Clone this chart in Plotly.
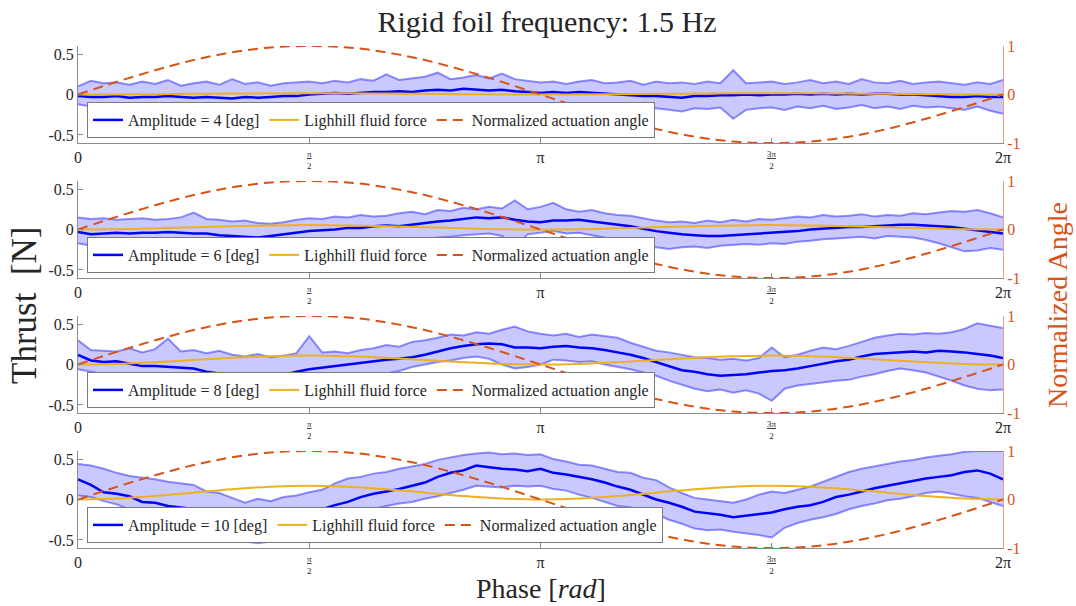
import numpy as np
import plotly.graph_objects as go

# ---------------- data ----------------
amplitudes = [4, 6, 8, 10]
phase = np.linspace(0, 2 * np.pi, 73)          # 5 degree steps
phase_coarse = np.linspace(0, 2 * np.pi, 25)   # 15 degree steps

mean_a4 = [-0.02,-0.03,-0.03,-0.02,-0.04,-0.03,-0.03,-0.02,-0.03,-0.04,-0.03,-0.04,-0.05,-0.03,-0.04,-0.03,-0.02,-0.02,
           0.00,0.01,0.02,0.01,0.02,0.03,0.03,0.04,0.03,0.05,0.06,0.05,0.07,0.06,0.05,0.06,0.04,0.03,
           0.02,0.03,0.02,0.03,0.02,0.01,0.00,-0.01,-0.02,-0.02,-0.03,-0.04,-0.02,-0.02,-0.01,-0.01,0.00,-0.01,
           0.00,0.00,0.01,0.00,0.01,0.00,0.01,0.00,0.01,0.01,0.00,0.00,-0.01,-0.02,-0.03,-0.03,-0.02,-0.03,-0.03]
upper_a4 = [0.10,0.17,0.14,0.15,0.12,0.16,0.13,0.18,0.11,0.14,0.16,0.12,0.19,0.13,0.15,0.11,0.14,0.15,
            0.16,0.14,0.17,0.15,0.19,0.17,0.25,0.18,0.20,0.22,0.27,0.19,0.21,0.24,0.20,0.26,0.19,0.17,
            0.15,0.16,0.13,0.16,0.18,0.14,0.15,0.17,0.12,0.16,0.14,0.15,0.13,0.16,0.14,0.30,0.14,0.15,
            0.16,0.13,0.15,0.18,0.14,0.16,0.13,0.19,0.15,0.14,0.17,0.13,0.15,0.16,0.14,0.12,0.15,0.13,0.18]
lower_a4 = [-0.12,-0.15,-0.20,-0.17,-0.22,-0.18,-0.25,-0.19,-0.21,-0.17,-0.23,-0.31,-0.18,-0.22,-0.26,-0.20,-0.24,-0.19,
            -0.17,-0.20,-0.16,-0.18,-0.14,-0.17,-0.15,-0.13,-0.16,-0.15,-0.18,-0.13,-0.15,-0.17,-0.14,-0.19,-0.16,-0.17,
            -0.15,-0.14,-0.18,-0.15,-0.19,-0.16,-0.17,-0.20,-0.18,-0.17,-0.19,-0.21,-0.17,-0.18,-0.16,-0.30,-0.19,-0.17,
            -0.16,-0.19,-0.15,-0.17,-0.14,-0.18,-0.16,-0.13,-0.17,-0.15,-0.18,-0.14,-0.16,-0.15,-0.17,-0.19,-0.15,-0.20,-0.24]

mean_a6 = [-0.03,-0.06,-0.05,-0.04,-0.05,-0.04,-0.04,-0.03,-0.04,-0.05,-0.05,-0.07,-0.08,-0.09,-0.10,-0.08,-0.06,-0.04,
           -0.02,-0.01,0.00,0.02,0.02,0.04,0.05,0.04,0.06,0.08,0.10,0.11,0.13,0.15,0.14,0.15,0.12,0.10,
           0.09,0.11,0.11,0.12,0.10,0.08,0.06,0.04,0.01,-0.02,-0.04,-0.06,-0.07,-0.08,-0.08,-0.07,-0.06,-0.05,
           -0.04,-0.03,-0.02,0.00,0.01,0.02,0.03,0.03,0.04,0.05,0.06,0.06,0.05,0.04,0.03,0.01,-0.01,-0.03,-0.05]
upper_a6 = [0.15,0.13,0.14,0.12,0.13,0.14,0.12,0.13,0.15,0.21,0.13,0.12,0.10,0.11,0.08,0.07,0.09,0.12,
            0.14,0.13,0.16,0.15,0.18,0.16,0.17,0.20,0.22,0.19,0.24,0.23,0.27,0.25,0.28,0.26,0.36,0.25,
            0.28,0.33,0.25,0.22,0.24,0.20,0.18,0.17,0.14,0.11,0.09,0.10,0.08,0.11,0.09,0.12,0.10,0.13,
            0.12,0.14,0.16,0.15,0.18,0.16,0.17,0.19,0.16,0.18,0.17,0.20,0.19,0.21,0.23,0.22,0.24,0.20,0.15]
lower_a6 = [-0.17,-0.20,-0.22,-0.23,-0.21,-0.24,-0.22,-0.25,-0.23,-0.22,-0.26,-0.24,-0.25,-0.29,-0.27,-0.30,-0.26,-0.24,
            -0.23,-0.21,-0.20,-0.17,-0.19,-0.16,-0.15,-0.14,-0.13,-0.11,-0.10,-0.09,-0.07,-0.06,-0.05,-0.08,-0.21,-0.06,
            -0.04,-0.02,-0.05,-0.04,-0.07,-0.10,-0.13,-0.16,-0.19,-0.22,-0.24,-0.22,-0.21,-0.23,-0.20,-0.19,-0.18,-0.19,
            -0.17,-0.18,-0.15,-0.14,-0.12,-0.11,-0.10,-0.09,-0.11,-0.08,-0.09,-0.10,-0.13,-0.17,-0.22,-0.27,-0.26,-0.23,-0.25]

mean_a8 = [0.12,0.05,0.03,0.04,0.01,-0.02,-0.02,-0.03,-0.04,-0.05,-0.09,-0.11,-0.14,-0.17,-0.16,-0.14,-0.13,-0.09,
           -0.06,-0.04,-0.02,0.00,0.02,0.04,0.06,0.07,0.09,0.12,0.16,0.20,0.23,0.25,0.26,0.25,0.21,0.21,
           0.20,0.22,0.23,0.21,0.20,0.18,0.15,0.12,0.08,0.03,-0.02,-0.07,-0.09,-0.12,-0.14,-0.13,-0.12,-0.10,
           -0.08,-0.07,-0.05,-0.02,0.01,0.04,0.06,0.10,0.13,0.14,0.15,0.16,0.15,0.17,0.16,0.15,0.13,0.11,0.08]
upper_a8 = [0.30,0.18,0.17,0.16,0.20,0.15,0.19,0.32,0.16,0.18,0.14,0.17,0.12,0.10,0.13,0.09,0.11,0.14,
            0.35,0.15,0.16,0.14,0.18,0.20,0.24,0.22,0.28,0.30,0.33,0.37,0.36,0.40,0.38,0.43,0.47,0.41,
            0.38,0.36,0.38,0.34,0.37,0.35,0.33,0.27,0.22,0.17,0.15,0.12,0.09,0.08,0.06,0.07,0.05,0.08,
            0.21,0.09,0.12,0.17,0.21,0.19,0.23,0.28,0.33,0.36,0.38,0.37,0.39,0.38,0.40,0.44,0.51,0.48,0.45]
lower_a8 = [-0.06,-0.09,-0.12,-0.15,-0.19,-0.17,-0.22,-0.20,-0.24,-0.28,-0.33,-0.30,-0.36,-0.40,-0.38,-0.42,-0.37,-0.34,
            -0.45,-0.30,-0.24,-0.21,-0.18,-0.15,-0.11,-0.08,-0.03,0.00,0.03,0.05,0.08,0.10,0.07,0.00,-0.05,-0.03,
            0.00,0.06,0.05,0.03,0.04,0.00,-0.03,-0.06,-0.10,-0.14,-0.20,-0.25,-0.30,-0.33,-0.31,-0.35,-0.32,-0.36,
            -0.45,-0.30,-0.26,-0.24,-0.22,-0.20,-0.19,-0.15,-0.12,-0.08,-0.05,-0.07,-0.10,-0.15,-0.20,-0.26,-0.30,-0.32,-0.31]

mean_a10 = [0.25,0.18,0.09,0.07,0.04,-0.03,-0.04,-0.08,-0.10,-0.12,-0.17,-0.19,-0.25,-0.27,-0.30,-0.27,-0.24,-0.21,
            -0.19,-0.12,-0.07,-0.03,0.03,0.07,0.10,0.13,0.17,0.21,0.28,0.33,0.36,0.42,0.40,0.38,0.37,0.35,
            0.38,0.33,0.31,0.28,0.25,0.21,0.16,0.12,0.06,0.00,-0.04,-0.09,-0.15,-0.17,-0.19,-0.22,-0.20,-0.18,
            -0.16,-0.12,-0.09,-0.07,-0.03,0.03,0.06,0.10,0.14,0.17,0.20,0.23,0.26,0.28,0.30,0.34,0.36,0.32,0.25]
upper_a10 = [0.44,0.42,0.38,0.33,0.29,0.27,0.25,0.22,0.20,0.18,0.10,0.08,0.02,-0.04,0.01,-0.02,0.03,0.05,
             0.09,0.12,0.20,0.26,0.28,0.32,0.34,0.38,0.41,0.44,0.49,0.52,0.55,0.57,0.58,0.56,0.57,0.55,
             0.56,0.50,0.47,0.43,0.42,0.38,0.34,0.33,0.27,0.24,0.15,0.08,0.02,0.00,-0.02,-0.04,0.00,0.06,
             0.10,0.08,0.12,0.16,0.22,0.28,0.34,0.38,0.41,0.44,0.47,0.49,0.52,0.54,0.56,0.59,0.60,0.60,0.60]
lower_a10 = [0.05,0.03,-0.02,-0.06,-0.12,-0.16,-0.19,-0.24,-0.27,-0.33,-0.40,-0.43,-0.49,-0.52,-0.54,-0.52,-0.48,-0.42,
             -0.38,-0.32,-0.26,-0.22,-0.17,-0.12,-0.08,-0.05,-0.03,0.01,0.04,0.08,0.12,0.17,0.16,0.15,0.17,0.16,
             0.17,0.13,0.11,0.06,0.02,-0.03,-0.08,-0.10,-0.13,-0.18,-0.25,-0.30,-0.36,-0.38,-0.37,-0.40,-0.42,-0.44,
             -0.47,-0.35,-0.29,-0.25,-0.22,-0.18,-0.12,-0.08,-0.05,-0.01,0.01,0.04,0.08,0.10,0.07,0.04,0.02,-0.03,-0.08]

lighthill_a4 = [0,0.001,0.004,0.008,0.011,0.014,0.015,0.014,0.011,0.008,0.004,0.001,0,
                0.001,0.004,0.008,0.011,0.014,0.015,0.014,0.011,0.008,0.004,0.001,0]
lighthill_a6 = [0,0.004,0.014,0.028,0.041,0.051,0.055,0.051,0.041,0.028,0.014,0.004,0,
                0.004,0.014,0.028,0.041,0.051,0.055,0.051,0.041,0.028,0.014,0.004,0]
lighthill_a8 = [0,0.007,0.028,0.055,0.083,0.103,0.110,0.103,0.083,0.055,0.028,0.007,0,
                0.007,0.028,0.055,0.083,0.103,0.110,0.103,0.083,0.055,0.028,0.007,0]
lighthill_a10 = [0,0.011,0.043,0.085,0.128,0.159,0.170,0.159,0.128,0.085,0.043,0.011,0,
                 0.011,0.043,0.085,0.128,0.159,0.170,0.159,0.128,0.085,0.043,0.011,0]
actuation = [0,0.26,0.50,0.71,0.87,0.97,1.00,0.97,0.87,0.71,0.50,0.26,0,
             -0.26,-0.50,-0.71,-0.87,-0.97,-1.00,-0.97,-0.87,-0.71,-0.50,-0.26,0]

means = [mean_a4, mean_a6, mean_a8, mean_a10]
uppers = [upper_a4, upper_a6, upper_a8, upper_a10]
lowers = [lower_a4, lower_a6, lower_a8, lower_a10]
lighthills = [lighthill_a4, lighthill_a6, lighthill_a8, lighthill_a10]

x_tickvals = [0, np.pi / 2, np.pi, 3 * np.pi / 2, 2 * np.pi]
x_ticktext = ["0", "", "π", "", "2π"]
y_tickvals = [-0.5, 0, 0.5]
y_ticktext = ["-0.5", "0", "0.5"]
r_tickvals = [-1, 0, 1]
r_ticktext = ["-1", "0", "1"]

# ---------------- style ----------------
SERIF = "Liberation Serif"
BLUE = "#0000FF"
BAND_FILL = "rgba(0,0,255,0.21)"
BAND_EDGE = "rgba(0,0,255,0.42)"
ORANGE = "#EDB120"
RED = "#D95319"
RED_AXIS = "rgba(217,83,25,0.55)"
GRAY = "#8C8C8C"
TXT = "#262626"

W, H = 1076, 606
L_PX, R_PX, T_PX, B_PX = 78, 1003, 46, 548
PLOT_H = B_PX - T_PX
PLOT_W = R_PX - L_PX
panel_tops = [46, 181, 316, 451]
panel_h = 97


def py(px):
    return (B_PX - px) / PLOT_H


def px_(x):
    return (x - L_PX) / PLOT_W


fig = go.Figure()
layout = dict()
annotations = []

for i in range(4):
    xa = "x" if i == 0 else f"x{i+1}"
    yl = "y" if i == 0 else f"y{2*i+1}"
    yr = f"y{2*i+2}"
    lg = "legend" if i == 0 else f"legend{i+1}"

    fig.add_trace(go.Scatter(x=phase, y=uppers[i], xaxis=xa, yaxis=yl, mode="lines",
                             line=dict(color=BAND_EDGE, width=2), showlegend=False,
                             hoverinfo="skip", legend=lg))
    fig.add_trace(go.Scatter(x=phase, y=lowers[i], xaxis=xa, yaxis=yl, mode="lines",
                             line=dict(color=BAND_EDGE, width=2), fill="tonexty",
                             fillcolor=BAND_FILL, showlegend=False, hoverinfo="skip", legend=lg))
    fig.add_trace(go.Scatter(x=phase, y=means[i], xaxis=xa, yaxis=yl, mode="lines",
                             line=dict(color=BLUE, width=2.5),
                             name=f"Amplitude = {amplitudes[i]} [deg]", legend=lg))
    fig.add_trace(go.Scatter(x=phase_coarse, y=lighthills[i], xaxis=xa, yaxis=yl, mode="lines",
                             line=dict(color=ORANGE, width=2, shape="spline"),
                             name="Lighhill fluid force", legend=lg))
    fig.add_trace(go.Scatter(x=phase_coarse, y=actuation, xaxis=xa, yaxis=yr, mode="lines",
                             line=dict(color=RED, width=2, dash="10px,6px", shape="spline"),
                             name="Normalized actuation angle", legend=lg))

    top = panel_tops[i]
    bot = top + panel_h
    dom = [py(bot), py(top)]
    xkey = "xaxis" if i == 0 else f"xaxis{i+1}"
    ylkey = "yaxis" if i == 0 else f"yaxis{2*i+1}"
    yrkey = f"yaxis{2*i+2}"
    layout[xkey] = dict(domain=[0, 1], anchor=yl, range=[0, 2 * np.pi],
                        tickvals=x_tickvals, ticktext=x_ticktext, ticks="inside", ticklen=5,
                        tickcolor=GRAY, showline=True, linecolor=GRAY, linewidth=1,
                        showgrid=False, zeroline=False,
                        tickfont=dict(family=SERIF, size=16, color=TXT))
    layout[ylkey] = dict(domain=dom, anchor=xa, range=[-0.6, 0.6],
                         tickvals=y_tickvals, ticktext=y_ticktext, ticks="inside", ticklen=5,
                         tickcolor=GRAY, showline=True, linecolor=GRAY, linewidth=1,
                         showgrid=False, zeroline=False,
                         tickfont=dict(family=SERIF, size=16, color=TXT))
    layout[yrkey] = dict(overlaying=yl, side="right", anchor=xa, range=[-1, 1],
                         tickvals=r_tickvals, ticktext=r_ticktext, ticks="inside", ticklen=5,
                         tickcolor=RED_AXIS, showline=True, linecolor=RED_AXIS, linewidth=1,
                         showgrid=False, zeroline=False,
                         tickfont=dict(family=SERIF, size=16, color=RED))
    layout[lg] = dict(x=px_(87), y=py(bot - 5), xanchor="left",
                      yanchor="bottom", orientation="h", bgcolor="white",
                      bordercolor="#7A7A7A", borderwidth=1, itemwidth=30,
                      traceorder="normal",
                      font=dict(family=SERIF, size=16, color=TXT), tracegroupgap=0)

    # fraction tick labels pi/2 and 3pi/2
    for xv, num in [(np.pi / 2, "π"), (3 * np.pi / 2, "3π")]:
        annotations.append(dict(x=xv, xref=xa, y=0, yref=f"{yl} domain", yanchor="top",
                                yshift=-4, showarrow=False, align="center",
                                text=f"<u>{num}</u><br>2",
                                font=dict(family=SERIF, size=9, color=TXT)))

annotations += [
    dict(text="Thrust\u00a0\u00a0[N]", x=px_(24), y=py(306), xref="paper", yref="paper",
         xanchor="center", yanchor="middle", showarrow=False, textangle=-90,
         font=dict(family=SERIF, size=35, color=TXT)),
    dict(text="Normalized Angle", x=px_(1057), y=py(305), xref="paper", yref="paper",
         xanchor="center", yanchor="middle", showarrow=False, textangle=-90,
         font=dict(family=SERIF, size=28, color=RED)),
    dict(text="Phase [<i>rad</i>]", x=px_(541), y=py(588), xref="paper", yref="paper",
         xanchor="center", yanchor="middle", showarrow=False,
         font=dict(family=SERIF, size=28, color=TXT)),
]

fig.update_layout(
    **layout,
    annotations=annotations,
    width=W, height=H,
    font=dict(family=SERIF, color=TXT),
    margin=dict(l=L_PX, r=W - R_PX, t=T_PX, b=H - B_PX),
    paper_bgcolor="white", plot_bgcolor="white",
    title=dict(text="Rigid foil frequency: 1.5 Hz", x=547 / W, xanchor="center",
               y=1 - 21 / H, yanchor="middle", yref="container",
               font=dict(family=SERIF, size=30, color=TXT)),
    hovermode=False,
)

fig.write_html("out.html")
